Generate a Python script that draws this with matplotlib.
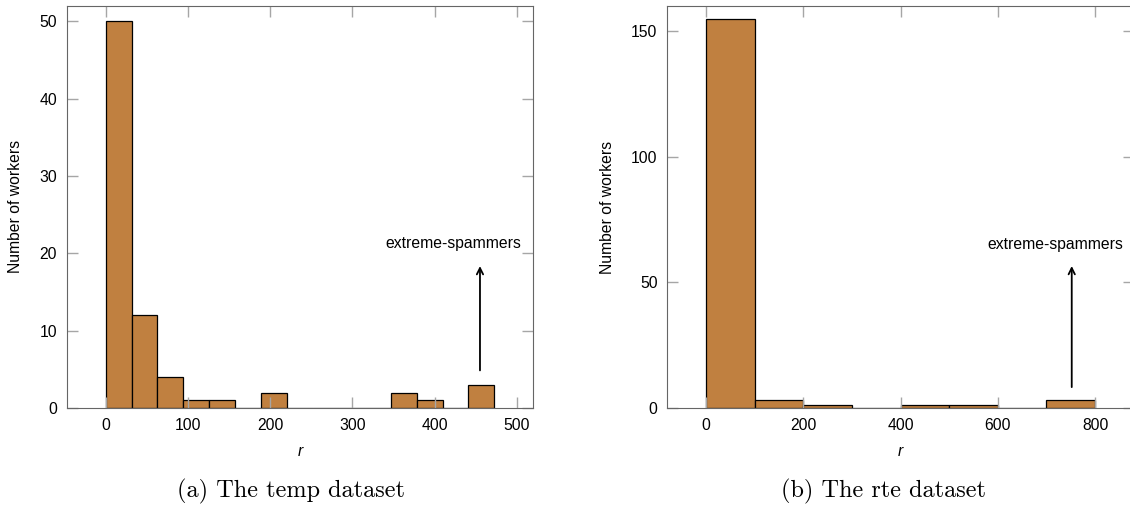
import numpy as np
import matplotlib.pyplot as plt

# temp dataset: histogram of r (15 bins of width 31.5)
temp_edges = np.linspace(0, 472.5, 16)
temp_counts = [50, 12, 4, 1, 1, 0, 2, 0, 0, 0, 0, 2, 1, 0, 3]

# rte dataset: histogram of r (8 bins of width 100)
rte_edges = np.linspace(0, 800, 9)
rte_counts = [155, 3, 1, 0, 1, 1, 0, 3]

temp_xticks = [0, 100, 200, 300, 400, 500]
temp_yticks = [0, 10, 20, 30, 40, 50]
rte_xticks = [0, 200, 400, 600, 800]
rte_yticks = [0, 50, 100, 150]

bar_color = "#c08040"
tick_grey = "#a6a6a6"
sans = ["Liberation Sans", "DejaVu Sans"]

plt.rcParams["font.family"] = sans
plt.rcParams["font.size"] = 11.3

fig = plt.figure(figsize=(11.3, 5.11), dpi=100)
ax1 = fig.add_axes([0.0591, 0.2016, 0.4128, 0.7873])
ax2 = fig.add_axes([0.5905, 0.2016, 0.4130, 0.7867])


def draw_hist(ax, edges, counts, xlim, ylim, xticks, yticks):
    ax.bar(edges[:-1], counts, width=np.diff(edges), align="edge",
           color=bar_color, edgecolor="black", linewidth=0.9)
    ax.set_xlim(*xlim)
    ax.set_ylim(*ylim)
    ax.set_xticks(xticks)
    ax.set_yticks(yticks)
    ax.tick_params(direction="in", length=8, width=1.0, color=tick_grey,
                   top=True, right=True, pad=7, labelsize=11.3)
    for s in ax.spines.values():
        s.set_color("#666666")
        s.set_linewidth(0.8)
    ax.set_xlabel("r", style="italic")
    ax.set_ylabel("Number of workers")
    ax.yaxis.label.set_va("center")
    ax.xaxis.label.set_va("center")


draw_hist(ax1, temp_edges, temp_counts, (-47.25, 519.75), (0, 52),
          temp_xticks, temp_yticks)
ax1.xaxis.set_label_coords(0.5, -0.109)
ax1.yaxis.set_label_coords(-0.1106, 0.5)
ax1.annotate("", xy=(455, 18.7), xytext=(455, 4.5),
             arrowprops=dict(arrowstyle="->", lw=1.3, color="black"))
ax1.text(422.5, 21.2, "extreme-spammers", ha="center", va="center")

draw_hist(ax2, rte_edges, rte_counts, (-80, 880), (0, 160),
          rte_xticks, rte_yticks)
ax2.xaxis.set_label_coords(0.5, -0.109)
ax2.yaxis.set_label_coords(-0.1286, 0.5)
ax2.annotate("", xy=(752, 57.6), xytext=(752, 7.2),
             arrowprops=dict(arrowstyle="->", lw=1.3, color="black"))
ax2.text(719, 65, "extreme-spammers", ha="center", va="center")

fig.text(291 / 1130, 1 - 491.5 / 511, "(a) The temp dataset", ha="center",
         va="center", fontfamily="cmr10", fontsize=17.5)
fig.text(883.9 / 1130, 1 - 491.5 / 511, "(b) The rte dataset", ha="center",
         va="center", fontfamily="cmr10", fontsize=17.5)

fig.savefig("out.png", dpi=100)
